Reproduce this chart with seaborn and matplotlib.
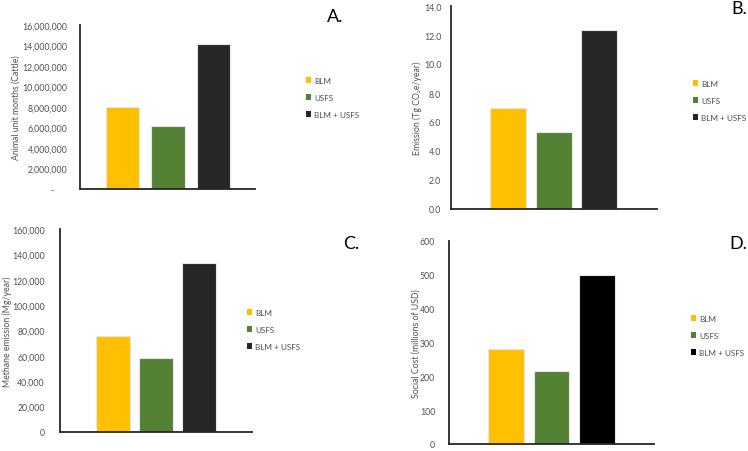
import matplotlib
matplotlib.use("Agg")
import matplotlib.pyplot as plt
import seaborn as sns
import pandas as pd
from matplotlib.patches import Patch
from matplotlib.ticker import FuncFormatter

sns.set_theme(style="white")
plt.rcParams['font.family'] = ['Lato', 'DejaVu Sans']

categories = ["BLM", "USFS", "BLM + USFS"]
aum_cattle = [8000000, 6100000, 14100000]
emission_co2e = [7.0, 5.32, 12.35]
methane_mg = [75600, 58000, 133100]
social_cost = [282, 215, 500]

colors_abc = ["#FFC000", "#548235", "#262626"]
colors_d = ["#FFC000", "#548235", "#000000"]

A_ticks = list(range(0, 16000001, 2000000))
B_ticks = [0, 2, 4, 6, 8, 10, 12, 14]
C_ticks = list(range(0, 160001, 20000))
D_ticks = list(range(0, 601, 100))

W, H = 748, 452
fig = plt.figure(figsize=(W / 100, H / 100), dpi=100)

GRAY = "#505050"
FS = 6.3
LFS = 5.9


def px_axes(x0, y0, x1, y1):
    return fig.add_axes([x0 / W, 1 - y1 / H, (x1 - x0) / W, (y1 - y0) / H])


def make_panel(box, values, colors, ticks, fmt, ylabel, xlim, width, labcoord,
               pad, leg_left, leg_top, letter, letter_pos):
    ax = px_axes(*box)
    df = pd.DataFrame({"cat": categories, "val": values})
    sns.barplot(data=df, x="cat", y="val", hue="cat", palette=colors,
                order=categories, hue_order=categories, width=width,
                edgecolor="#e6e6e6", linewidth=0.8, legend=False, ax=ax,
                saturation=1)
    ax.set_xlim(*xlim)
    ax.set_ylim(ticks[0], ticks[-1])
    ax.set_yticks(ticks)
    ax.yaxis.set_major_formatter(FuncFormatter(fmt))
    ax.set_xticks([])
    ax.set_xlabel("")
    ax.set_ylabel(ylabel, fontsize=FS, color=GRAY)
    ax.yaxis.set_label_coords(labcoord, 0.5)
    ax.tick_params(axis="y", length=0, pad=pad, labelsize=FS, labelcolor=GRAY)
    for s in ["top", "right"]:
        ax.spines[s].set_visible(False)
    for s in ["left", "bottom"]:
        ax.spines[s].set_color("#262626")
        ax.spines[s].set_linewidth(1.3)
    handles = [Patch(facecolor=c, edgecolor="none") for c in colors]
    ax.legend(handles, categories, loc="upper left",
              bbox_to_anchor=(leg_left / W, 1 - leg_top / H),
              bbox_transform=fig.transFigure, frameon=False, fontsize=LFS,
              labelcolor=GRAY, handlelength=0.65, handleheight=0.65,
              handletextpad=0.35, labelspacing=1.2, borderpad=0,
              borderaxespad=0)
    fig.text(letter_pos[0] / W, 1 - letter_pos[1] / H, letter, fontsize=13,
             color="black", ha="left", va="center")
    return ax


fmt_a = lambda v, p: "-      " if v == 0 else f"{v:,.0f}"
fmt_b = lambda v, p: f"{v:.1f}"
fmt_c = lambda v, p: f"{v:,.0f}"
fmt_d = lambda v, p: f"{v:.0f}"

make_panel((80, 26, 255, 190), aum_cattle, colors_abc, A_ticks, fmt_a,
           "Animal unit months (Cattle)", (-0.93, 2.91), 0.74, -0.34, 9,
           306, 78, "A.", (327, 17))
make_panel((451, 7, 657, 210), emission_co2e, colors_abc, B_ticks, fmt_b,
           "Emission (Tg CO₂e/year)", (-1.25, 3.27), 0.79, -0.14, 7,
           693, 81, "B.", (731, 9))
make_panel((60, 230, 252, 433), methane_mg, colors_abc, C_ticks, fmt_c,
           "Methane emission (Mg/year)", (-1.24, 3.25), 0.795, -0.25, 11,
           247, 310, "C.", (343, 244))
make_panel((449, 242, 654, 445), social_cost, colors_d, D_ticks, fmt_d,
           "Social Cost (millions of USD)", (-1.25, 3.25), 0.79, -0.137, 10,
           691, 316, "D.", (729, 244))

fig.savefig("out.png", dpi=100, facecolor="white")
